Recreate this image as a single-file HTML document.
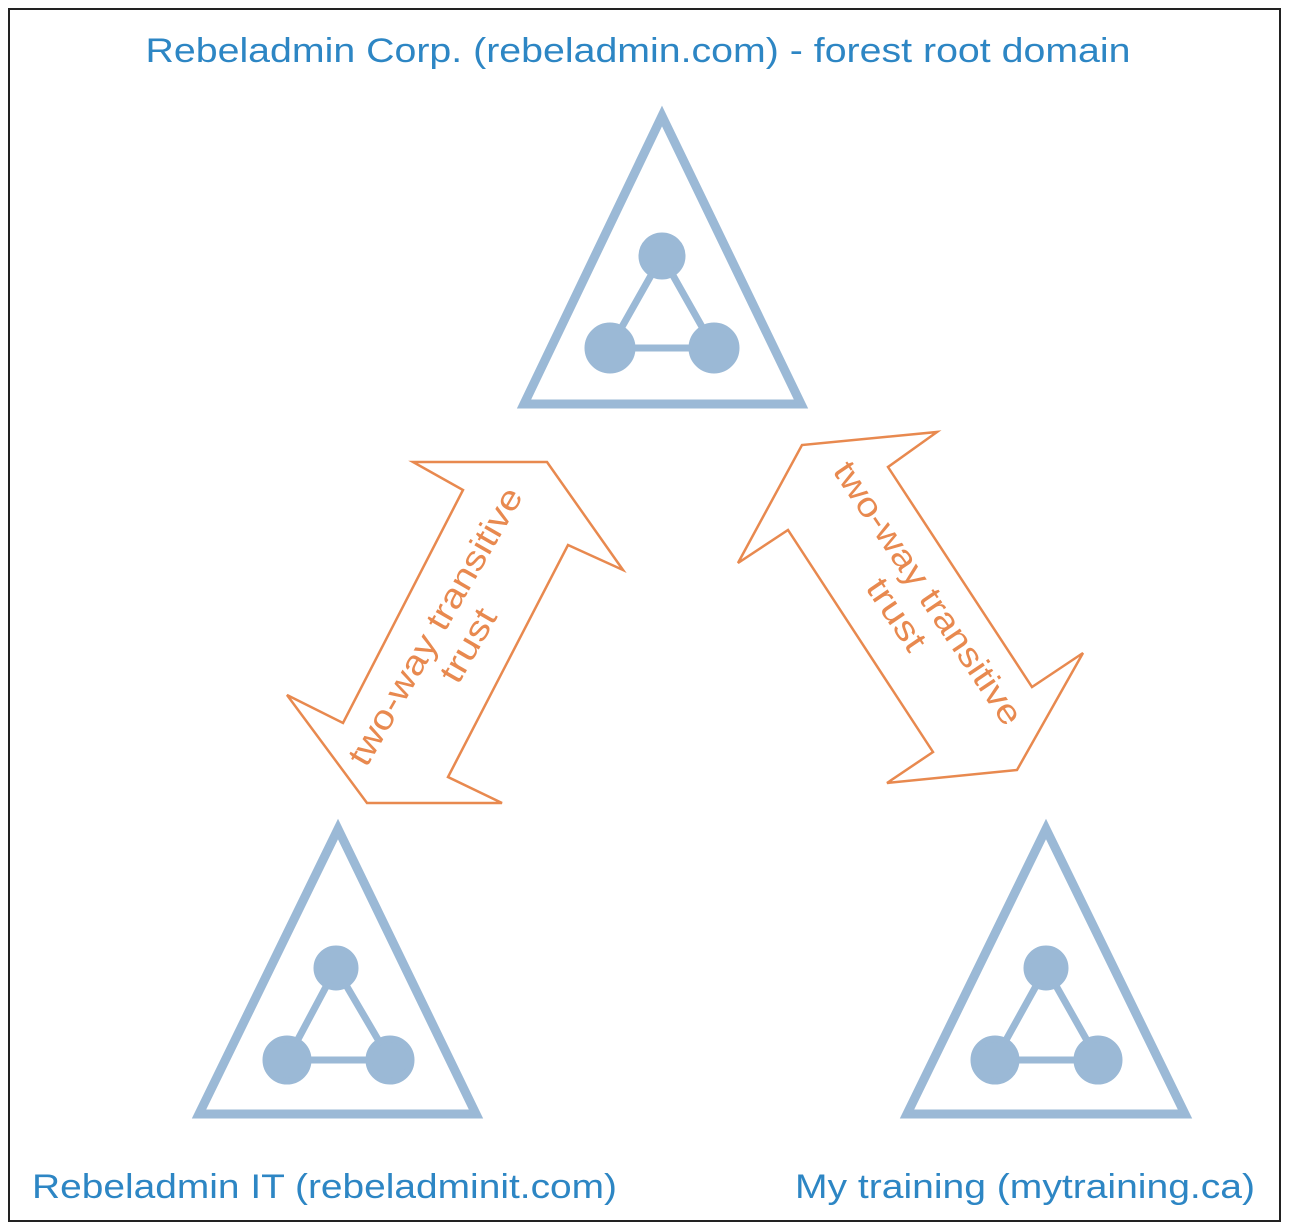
<!DOCTYPE html>
<html><head><style>
html,body{margin:0;padding:0;background:#fff;}
svg{display:block;}
</style></head><body>
<svg width="1289" height="1231" viewBox="0 0 1289 1231" xmlns="http://www.w3.org/2000/svg">
<rect x="0" y="0" width="1289" height="1231" fill="#fff"/>
<rect x="9" y="9" width="1271" height="1212" fill="none" stroke="#222" stroke-width="2"/>
<g font-family="Liberation Sans, sans-serif" fill="#2d86c4" font-size="34">
<text x="638" y="62" text-anchor="middle" textLength="985" lengthAdjust="spacingAndGlyphs">Rebeladmin Corp. (rebeladmin.com) - forest root domain</text>
<text x="32" y="1198" textLength="585" lengthAdjust="spacingAndGlyphs">Rebeladmin IT (rebeladminit.com)</text>
<text x="795" y="1198" textLength="460" lengthAdjust="spacingAndGlyphs">My training (mytraining.ca)</text>
</g>
<g fill="none" stroke="#9bb9d6" stroke-width="9" stroke-linejoin="miter">
<polygon points="662,116 524,404 801,404"/>
<polygon points="338,829 199,1114 476,1114"/>
<polygon points="1046,829 907,1114 1185,1114"/>
</g>
<g stroke="#9bb9d6" stroke-width="7" fill="#9bb9d6">
<polygon points="662,256 610,348 714,348" fill="none"/>
<circle cx="662" cy="256" r="20"/><circle cx="610" cy="348" r="22"/><circle cx="714" cy="348" r="22"/>
<polygon points="336,968 287,1060 390,1060" fill="none"/>
<circle cx="336" cy="968" r="19"/><circle cx="287" cy="1060" r="21"/><circle cx="390" cy="1060" r="21"/>
<polygon points="1046,968 995,1060 1098,1060" fill="none"/>
<circle cx="1046" cy="968" r="19"/><circle cx="995" cy="1060" r="21"/><circle cx="1098" cy="1060" r="21"/>
</g>
<g fill="none" stroke="#e8894f" stroke-width="2.5" stroke-linejoin="miter">
<polygon points="413,462 547,462 623,570 568,545 448,777 502,803 367,803 287,695 343,723 463,490"/>
<polygon points="937,432 888,467 1032,687 1083,653 1017,770 887,783 933,752 788,530 738,563 802,445"/>
</g>
<g font-family="Liberation Sans, sans-serif" fill="#e8894f" font-size="34" text-anchor="middle">
<g transform="translate(452,636) rotate(-60)">
<text x="0" y="-8" textLength="315" lengthAdjust="spacingAndGlyphs">two-way transitive</text>
<text x="0" y="30" textLength="80" lengthAdjust="spacingAndGlyphs">trust</text>
</g>
<g transform="translate(912,604) rotate(56)">
<text x="0" y="-8" textLength="310" lengthAdjust="spacingAndGlyphs">two-way transitive</text>
<text x="0" y="30" textLength="80" lengthAdjust="spacingAndGlyphs">trust</text>
</g>
</g>
</svg>
</body></html>
